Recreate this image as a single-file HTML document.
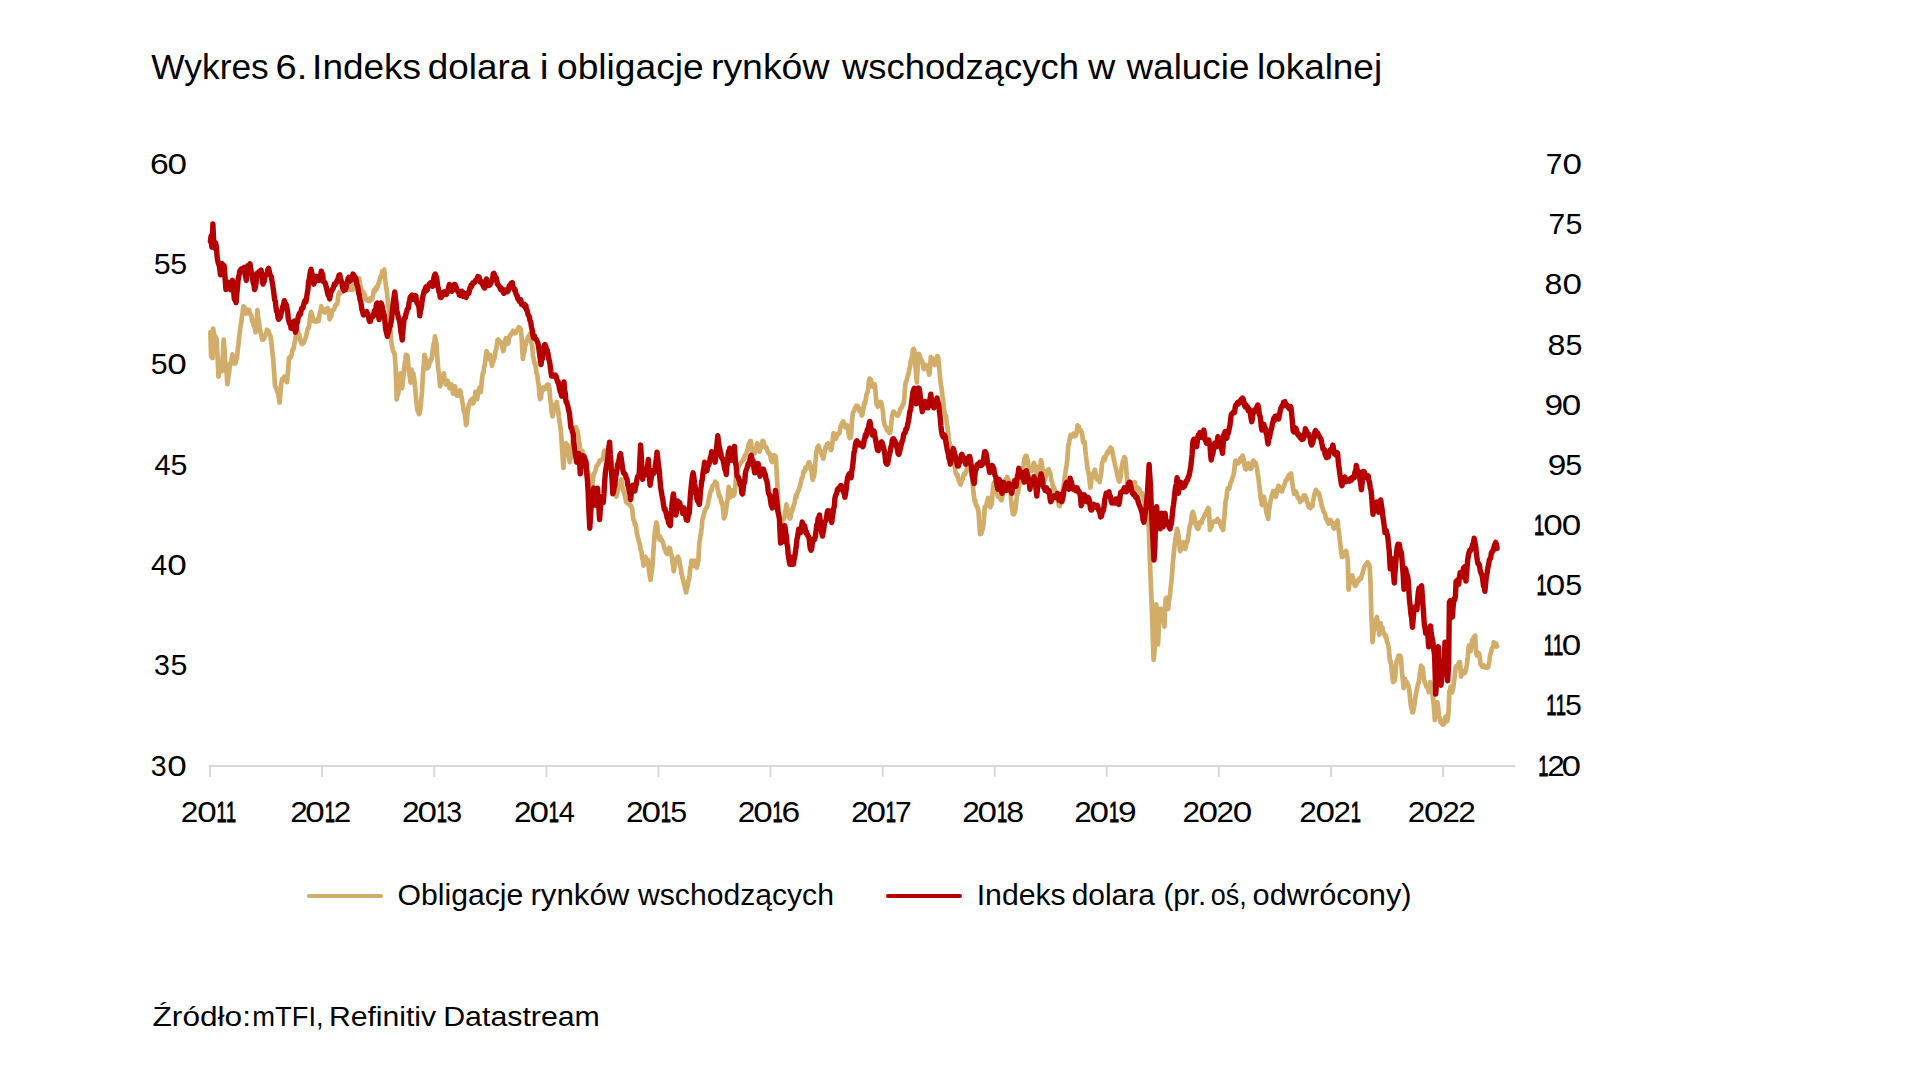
<!DOCTYPE html><html><head><meta charset="utf-8"><title>Wykres 6</title><style>html,body{margin:0;padding:0;background:#fff;}svg{display:block;}text{font-family:"Liberation Sans", "DejaVu Sans", sans-serif;fill:#000;}</style></head><body>
<svg width="1920" height="1080" viewBox="0 0 1920 1080">
<rect width="1920" height="1080" fill="#fff"/>
<text y="173.8" font-size="28.7"><tspan x="150.12" textLength="18.72" lengthAdjust="spacingAndGlyphs">6</tspan><tspan x="167.40" textLength="19.48" lengthAdjust="spacingAndGlyphs">0</tspan></text>
<text y="274.0" font-size="28.7"><tspan x="153.78" textLength="16.91" lengthAdjust="spacingAndGlyphs">5</tspan><tspan x="170.38" textLength="16.91" lengthAdjust="spacingAndGlyphs">5</tspan></text>
<text y="374.1" font-size="28.7"><tspan x="150.88" textLength="16.91" lengthAdjust="spacingAndGlyphs">5</tspan><tspan x="167.30" textLength="19.48" lengthAdjust="spacingAndGlyphs">0</tspan></text>
<text y="474.5" font-size="28.7"><tspan x="154.42" textLength="16.13" lengthAdjust="spacingAndGlyphs">4</tspan><tspan x="170.58" textLength="16.91" lengthAdjust="spacingAndGlyphs">5</tspan></text>
<text y="574.8" font-size="28.7"><tspan x="151.02" textLength="16.13" lengthAdjust="spacingAndGlyphs">4</tspan><tspan x="167.30" textLength="19.48" lengthAdjust="spacingAndGlyphs">0</tspan></text>
<text y="675.0" font-size="28.7"><tspan x="153.96" textLength="15.86" lengthAdjust="spacingAndGlyphs">3</tspan><tspan x="170.58" textLength="16.91" lengthAdjust="spacingAndGlyphs">5</tspan></text>
<text y="775.6" font-size="28.7"><tspan x="150.86" textLength="15.86" lengthAdjust="spacingAndGlyphs">3</tspan><tspan x="167.20" textLength="19.48" lengthAdjust="spacingAndGlyphs">0</tspan></text>
<text y="173.9" font-size="28.7"><tspan x="1545.80" textLength="16.68" lengthAdjust="spacingAndGlyphs">7</tspan><tspan x="1562.40" textLength="19.48" lengthAdjust="spacingAndGlyphs">0</tspan></text>
<text y="234.0" font-size="28.7"><tspan x="1548.40" textLength="16.68" lengthAdjust="spacingAndGlyphs">7</tspan><tspan x="1565.48" textLength="16.91" lengthAdjust="spacingAndGlyphs">5</tspan></text>
<text y="294.3" font-size="28.7"><tspan x="1544.41" textLength="17.86" lengthAdjust="spacingAndGlyphs">8</tspan><tspan x="1562.40" textLength="19.48" lengthAdjust="spacingAndGlyphs">0</tspan></text>
<text y="354.5" font-size="28.7"><tspan x="1547.51" textLength="17.86" lengthAdjust="spacingAndGlyphs">8</tspan><tspan x="1565.48" textLength="16.91" lengthAdjust="spacingAndGlyphs">5</tspan></text>
<text y="414.7" font-size="28.7"><tspan x="1544.44" textLength="18.60" lengthAdjust="spacingAndGlyphs">9</tspan><tspan x="1561.70" textLength="19.48" lengthAdjust="spacingAndGlyphs">0</tspan></text>
<text y="474.9" font-size="28.7"><tspan x="1547.74" textLength="18.60" lengthAdjust="spacingAndGlyphs">9</tspan><tspan x="1565.38" textLength="16.91" lengthAdjust="spacingAndGlyphs">5</tspan></text>
<text y="535.1" font-size="28.7"><tspan x="1533.94" textLength="10.21" lengthAdjust="spacingAndGlyphs" stroke="#000" stroke-width="0.9">1</tspan><tspan x="1543.20" textLength="19.48" lengthAdjust="spacingAndGlyphs">0</tspan><tspan x="1561.70" textLength="19.48" lengthAdjust="spacingAndGlyphs">0</tspan></text>
<text y="595.2" font-size="28.7"><tspan x="1536.44" textLength="10.21" lengthAdjust="spacingAndGlyphs" stroke="#000" stroke-width="0.9">1</tspan><tspan x="1545.70" textLength="19.48" lengthAdjust="spacingAndGlyphs">0</tspan><tspan x="1565.38" textLength="16.91" lengthAdjust="spacingAndGlyphs">5</tspan></text>
<text y="654.8" font-size="28.7"><tspan x="1543.84" textLength="10.21" lengthAdjust="spacingAndGlyphs" stroke="#000" stroke-width="0.9">1</tspan><tspan x="1552.89" textLength="10.21" lengthAdjust="spacingAndGlyphs" stroke="#000" stroke-width="0.9">1</tspan><tspan x="1561.70" textLength="19.48" lengthAdjust="spacingAndGlyphs">0</tspan></text>
<text y="715.4" font-size="28.7"><tspan x="1546.34" textLength="10.21" lengthAdjust="spacingAndGlyphs" stroke="#000" stroke-width="0.9">1</tspan><tspan x="1555.69" textLength="10.21" lengthAdjust="spacingAndGlyphs" stroke="#000" stroke-width="0.9">1</tspan><tspan x="1564.98" textLength="16.91" lengthAdjust="spacingAndGlyphs">5</tspan></text>
<text y="775.8" font-size="28.7"><tspan x="1538.24" textLength="10.21" lengthAdjust="spacingAndGlyphs" stroke="#000" stroke-width="0.9">1</tspan><tspan x="1547.32" textLength="17.53" lengthAdjust="spacingAndGlyphs">2</tspan><tspan x="1561.60" textLength="19.48" lengthAdjust="spacingAndGlyphs">0</tspan></text>
<text y="821.8" font-size="28.7"><tspan x="180.82" textLength="17.53" lengthAdjust="spacingAndGlyphs">2</tspan><tspan x="197.20" textLength="19.48" lengthAdjust="spacingAndGlyphs">0</tspan><tspan x="216.54" textLength="10.21" lengthAdjust="spacingAndGlyphs" stroke="#000" stroke-width="0.9">1</tspan><tspan x="226.04" textLength="10.21" lengthAdjust="spacingAndGlyphs" stroke="#000" stroke-width="0.9">1</tspan></text>
<text y="821.8" font-size="28.7"><tspan x="290.22" textLength="17.53" lengthAdjust="spacingAndGlyphs">2</tspan><tspan x="305.30" textLength="19.48" lengthAdjust="spacingAndGlyphs">0</tspan><tspan x="324.64" textLength="10.21" lengthAdjust="spacingAndGlyphs" stroke="#000" stroke-width="0.9">1</tspan><tspan x="333.72" textLength="17.53" lengthAdjust="spacingAndGlyphs">2</tspan></text>
<text y="821.8" font-size="28.7"><tspan x="402.12" textLength="17.53" lengthAdjust="spacingAndGlyphs">2</tspan><tspan x="417.50" textLength="19.48" lengthAdjust="spacingAndGlyphs">0</tspan><tspan x="436.84" textLength="10.21" lengthAdjust="spacingAndGlyphs" stroke="#000" stroke-width="0.9">1</tspan><tspan x="446.36" textLength="15.86" lengthAdjust="spacingAndGlyphs">3</tspan></text>
<text y="821.8" font-size="28.7"><tspan x="514.02" textLength="17.53" lengthAdjust="spacingAndGlyphs">2</tspan><tspan x="529.40" textLength="19.48" lengthAdjust="spacingAndGlyphs">0</tspan><tspan x="548.74" textLength="10.21" lengthAdjust="spacingAndGlyphs" stroke="#000" stroke-width="0.9">1</tspan><tspan x="558.72" textLength="16.13" lengthAdjust="spacingAndGlyphs">4</tspan></text>
<text y="821.8" font-size="28.7"><tspan x="626.02" textLength="17.53" lengthAdjust="spacingAndGlyphs">2</tspan><tspan x="641.40" textLength="19.48" lengthAdjust="spacingAndGlyphs">0</tspan><tspan x="660.74" textLength="10.21" lengthAdjust="spacingAndGlyphs" stroke="#000" stroke-width="0.9">1</tspan><tspan x="670.18" textLength="16.91" lengthAdjust="spacingAndGlyphs">5</tspan></text>
<text y="821.8" font-size="28.7"><tspan x="737.82" textLength="17.53" lengthAdjust="spacingAndGlyphs">2</tspan><tspan x="753.20" textLength="19.48" lengthAdjust="spacingAndGlyphs">0</tspan><tspan x="772.54" textLength="10.21" lengthAdjust="spacingAndGlyphs" stroke="#000" stroke-width="0.9">1</tspan><tspan x="781.52" textLength="18.72" lengthAdjust="spacingAndGlyphs">6</tspan></text>
<text y="821.8" font-size="28.7"><tspan x="851.12" textLength="17.53" lengthAdjust="spacingAndGlyphs">2</tspan><tspan x="866.50" textLength="19.48" lengthAdjust="spacingAndGlyphs">0</tspan><tspan x="885.84" textLength="10.21" lengthAdjust="spacingAndGlyphs" stroke="#000" stroke-width="0.9">1</tspan><tspan x="895.00" textLength="16.68" lengthAdjust="spacingAndGlyphs">7</tspan></text>
<text y="821.8" font-size="28.7"><tspan x="962.22" textLength="17.53" lengthAdjust="spacingAndGlyphs">2</tspan><tspan x="977.60" textLength="19.48" lengthAdjust="spacingAndGlyphs">0</tspan><tspan x="996.94" textLength="10.21" lengthAdjust="spacingAndGlyphs" stroke="#000" stroke-width="0.9">1</tspan><tspan x="1006.21" textLength="17.86" lengthAdjust="spacingAndGlyphs">8</tspan></text>
<text y="821.8" font-size="28.7"><tspan x="1074.22" textLength="17.53" lengthAdjust="spacingAndGlyphs">2</tspan><tspan x="1089.60" textLength="19.48" lengthAdjust="spacingAndGlyphs">0</tspan><tspan x="1108.94" textLength="10.21" lengthAdjust="spacingAndGlyphs" stroke="#000" stroke-width="0.9">1</tspan><tspan x="1118.04" textLength="18.60" lengthAdjust="spacingAndGlyphs">9</tspan></text>
<text y="821.8" font-size="28.7"><tspan x="1182.42" textLength="17.53" lengthAdjust="spacingAndGlyphs">2</tspan><tspan x="1198.53" textLength="19.48" lengthAdjust="spacingAndGlyphs">0</tspan><tspan x="1216.59" textLength="17.53" lengthAdjust="spacingAndGlyphs">2</tspan><tspan x="1232.70" textLength="19.48" lengthAdjust="spacingAndGlyphs">0</tspan></text>
<text y="821.8" font-size="28.7"><tspan x="1299.32" textLength="17.53" lengthAdjust="spacingAndGlyphs">2</tspan><tspan x="1315.40" textLength="19.48" lengthAdjust="spacingAndGlyphs">0</tspan><tspan x="1333.42" textLength="17.53" lengthAdjust="spacingAndGlyphs">2</tspan><tspan x="1350.64" textLength="10.21" lengthAdjust="spacingAndGlyphs" stroke="#000" stroke-width="0.9">1</tspan></text>
<text y="821.8" font-size="28.7"><tspan x="1407.82" textLength="17.53" lengthAdjust="spacingAndGlyphs">2</tspan><tspan x="1424.03" textLength="19.48" lengthAdjust="spacingAndGlyphs">0</tspan><tspan x="1442.19" textLength="17.53" lengthAdjust="spacingAndGlyphs">2</tspan><tspan x="1458.22" textLength="17.53" lengthAdjust="spacingAndGlyphs">2</tspan></text>
<text y="79.00" font-size="34.5"><tspan x="151.34" textLength="117.37" lengthAdjust="spacingAndGlyphs">Wykres</tspan> <tspan x="275.47" textLength="31.74" lengthAdjust="spacingAndGlyphs">6.</tspan> <tspan x="312.12" textLength="108.98" lengthAdjust="spacingAndGlyphs">Indeks</tspan> <tspan x="427.80" textLength="102.37" lengthAdjust="spacingAndGlyphs">dolara</tspan> <tspan x="539.89" textLength="8.82" lengthAdjust="spacingAndGlyphs">i</tspan> <tspan x="556.98" textLength="146.66" lengthAdjust="spacingAndGlyphs">obligacje</tspan> <tspan x="710.96" textLength="118.47" lengthAdjust="spacingAndGlyphs">rynków</tspan> <tspan x="842.00" textLength="237.02" lengthAdjust="spacingAndGlyphs">wschodzących</tspan> <tspan x="1088.10" textLength="27.31" lengthAdjust="spacingAndGlyphs">w</tspan> <tspan x="1126.60" textLength="122.76" lengthAdjust="spacingAndGlyphs">walucie</tspan> <tspan x="1256.99" textLength="125.11" lengthAdjust="spacingAndGlyphs">lokalnej</tspan></text>
<g stroke="#d9d9d9" stroke-width="2" fill="none">
<line x1="208.6" y1="766" x2="1515.3" y2="766"/>
<line x1="210.0" y1="766" x2="210.0" y2="777"/>
<line x1="322.0" y1="766" x2="322.0" y2="777"/>
<line x1="434.3" y1="766" x2="434.3" y2="777"/>
<line x1="546.4" y1="766" x2="546.4" y2="777"/>
<line x1="658.4" y1="766" x2="658.4" y2="777"/>
<line x1="770.4" y1="766" x2="770.4" y2="777"/>
<line x1="882.7" y1="766" x2="882.7" y2="777"/>
<line x1="994.7" y1="766" x2="994.7" y2="777"/>
<line x1="1106.7" y1="766" x2="1106.7" y2="777"/>
<line x1="1218.8" y1="766" x2="1218.8" y2="777"/>
<line x1="1331.1" y1="766" x2="1331.1" y2="777"/>
<line x1="1443.1" y1="766" x2="1443.1" y2="777"/>
</g>
<polyline points="210.4,332.2 211.1,356.3 211.8,355.6 212.5,358.1 213.2,328.5 214.0,333.8 214.8,335.9 215.4,338.3 216.0,337.3 216.7,339.6 217.3,352.0 217.9,364.1 218.5,376.7 219.1,372.4 219.8,368.1 220.4,361.9 221.1,364.7 221.9,371.1 222.5,358.5 223.1,351.6 223.7,339.6 224.4,348.6 225.0,358.1 225.8,367.9 226.6,373.2 227.4,384.1 228.1,378.3 228.9,373.9 229.6,367.4 230.3,363.0 231.0,362.9 231.7,359.5 232.4,354.4 233.0,355.5 233.6,358.5 234.3,363.7 235.0,362.5 235.6,362.9 236.3,359.0 237.0,358.1 237.7,350.4 238.4,344.8 239.1,336.6 239.8,332.2 240.6,325.8 241.3,321.6 242.0,316.6 242.8,310.3 243.5,306.3 244.2,307.0 244.9,308.8 245.6,311.7 246.3,313.7 247.0,311.9 247.7,309.7 248.4,312.4 249.1,310.0 249.8,312.5 250.6,315.1 251.3,315.3 252.0,321.1 252.8,321.1 253.5,325.5 254.2,325.0 254.9,328.7 255.6,332.2 256.2,325.8 256.8,318.3 257.4,310.0 258.0,316.9 258.6,319.5 259.3,324.8 260.0,330.0 260.6,333.0 261.3,335.1 262.0,339.6 262.7,339.1 263.4,339.5 264.1,338.4 264.8,335.9 265.5,334.6 266.2,333.5 266.9,329.7 267.6,330.4 268.3,330.6 269.0,334.5 269.7,334.2 270.4,335.9 271.1,340.0 271.8,347.3 272.5,353.5 273.1,358.1 273.8,368.2 274.4,376.1 275.0,385.9 275.7,387.0 276.4,388.7 277.1,391.3 277.8,391.5 278.4,395.3 279.0,398.4 279.6,402.6 280.2,395.8 280.9,386.9 281.5,382.2 282.2,378.8 282.9,380.3 283.6,380.2 284.3,376.7 285.0,378.5 285.6,379.0 286.3,379.4 287.0,382.2 287.7,374.2 288.3,368.3 288.9,358.1 289.6,358.4 290.3,356.5 291.0,357.0 291.7,354.4 292.4,350.5 293.1,348.9 293.8,348.1 294.4,343.3 295.1,340.0 295.8,335.7 296.5,331.2 297.2,328.5 297.9,331.5 298.6,336.1 299.3,334.7 300.0,339.6 300.7,341.8 301.4,342.9 302.1,344.1 302.8,343.3 303.5,343.0 304.2,341.9 304.9,339.2 305.6,337.8 306.2,335.7 306.9,332.8 307.6,328.9 308.3,328.5 309.0,326.0 309.7,320.5 310.4,314.7 311.1,311.9 311.8,314.2 312.5,316.4 313.2,318.2 313.9,321.1 314.6,320.4 315.2,321.3 315.9,321.7 316.5,321.6 317.2,320.9 317.9,319.0 318.5,321.1 319.2,316.2 319.9,312.3 320.6,310.4 321.3,306.3 322.0,309.3 322.7,310.4 323.4,311.8 324.1,311.9 324.8,312.5 325.6,309.3 326.3,311.1 327.0,309.7 327.8,308.1 328.4,310.0 329.0,313.4 329.6,319.3 330.4,315.3 331.1,316.7 331.9,312.6 332.6,310.1 333.3,310.0 334.1,309.4 334.8,307.1 335.6,304.8 336.3,304.1 337.0,304.4 337.7,300.9 338.3,295.6 338.9,293.3 339.6,292.0 340.4,293.5 341.1,292.0 341.9,291.1 342.6,291.5 343.3,289.5 344.0,285.7 344.7,285.4 345.4,284.1 346.1,284.7 346.8,284.6 347.5,285.1 348.1,287.8 348.9,289.9 349.6,288.6 350.4,287.6 351.1,289.7 351.9,289.6 352.6,289.9 353.3,285.3 354.1,284.2 354.8,283.6 355.6,284.1 356.3,283.9 357.0,280.4 357.8,281.6 358.5,280.4 359.3,278.5 359.9,283.5 360.6,288.1 361.2,287.8 361.9,292.1 362.6,292.2 363.3,291.9 364.0,293.8 364.7,294.3 365.4,298.1 366.1,299.3 366.8,299.3 367.5,300.5 368.2,299.9 368.9,301.1 369.6,301.2 370.3,298.2 371.0,298.8 371.7,299.3 372.3,298.8 372.9,296.0 373.5,291.9 374.1,290.1 374.8,291.6 375.4,289.1 376.0,287.3 376.6,289.2 377.2,286.3 377.8,286.1 378.5,283.5 379.1,282.6 379.7,279.7 380.3,276.7 380.9,277.0 381.5,276.9 382.2,271.3 382.8,271.5 383.5,272.0 384.3,269.6 384.9,278.1 385.6,282.6 386.2,287.8 386.8,291.0 387.4,297.4 388.0,303.3 388.6,308.1 389.3,310.4 390.2,327.0 391.1,340.0 391.7,344.6 392.3,347.4 393.0,351.1 393.6,351.8 394.2,352.9 394.8,354.8 395.7,369.6 396.7,399.3 397.3,395.5 397.9,395.1 398.5,391.9 399.1,385.4 399.8,378.2 400.4,373.3 401.0,376.5 401.6,383.9 402.2,388.1 402.8,381.1 403.5,375.8 404.1,369.6 404.7,363.9 405.3,361.4 405.9,354.8 406.5,357.8 407.2,355.2 407.8,358.5 408.7,369.6 409.3,372.6 409.9,377.5 410.6,382.6 411.5,369.6 412.1,373.0 412.7,373.3 413.3,373.3 414.0,377.6 414.6,381.9 415.2,388.1 415.8,395.1 416.4,402.0 417.0,406.7 417.7,411.0 418.3,410.9 418.9,414.1 419.5,413.3 420.1,410.0 420.7,406.7 421.4,398.0 422.0,391.5 422.6,380.7 423.2,370.9 423.8,364.4 424.4,354.8 425.1,356.7 425.7,360.8 426.3,365.9 426.9,368.4 427.5,365.9 428.1,367.8 428.8,366.4 429.4,363.3 430.0,360.4 430.6,361.3 431.2,358.6 431.9,358.5 432.5,352.9 433.1,347.7 433.7,343.7 434.4,341.6 435.0,336.3 435.7,340.5 436.5,343.7 437.1,354.3 437.7,362.7 438.3,369.6 439.0,373.6 439.6,381.0 440.2,386.3 440.8,382.7 441.4,380.6 442.0,380.7 442.7,376.4 443.3,377.4 443.9,373.3 444.5,378.3 445.1,382.2 445.7,384.4 446.4,382.5 447.0,382.5 447.6,380.7 448.2,384.5 448.8,385.1 449.4,388.1 450.1,387.2 450.7,384.5 451.3,384.4 451.9,385.7 452.5,389.6 453.1,393.7 453.8,393.0 454.4,389.0 455.0,386.3 455.6,391.3 456.2,392.3 456.9,395.6 457.5,394.0 458.1,395.6 458.7,393.7 459.3,394.5 459.9,390.3 460.6,391.9 461.2,396.3 461.8,397.5 462.4,403.0 463.0,404.4 463.6,410.8 464.3,412.2 464.9,414.5 465.5,419.7 466.1,425.2 466.7,422.4 467.3,415.0 468.0,410.4 468.6,406.2 469.2,404.0 469.8,403.0 470.4,400.6 471.0,401.6 471.7,399.3 472.3,398.7 472.9,403.5 473.5,403.0 474.1,398.7 474.8,397.6 475.4,391.9 476.0,396.1 476.6,395.9 477.2,399.3 477.8,394.5 478.5,391.8 479.1,388.1 479.7,387.6 480.3,391.3 480.9,391.9 481.5,383.7 482.2,377.4 482.8,373.3 483.4,373.0 484.0,367.5 484.6,365.9 485.2,361.4 485.9,355.8 486.5,351.1 487.1,352.8 487.7,354.1 488.3,358.5 489.0,359.1 489.6,358.1 490.2,354.8 490.8,360.6 491.4,360.5 492.0,365.9 492.7,362.2 493.3,361.5 493.9,358.5 494.5,358.2 495.1,353.8 495.7,351.1 496.4,348.2 497.0,344.4 497.6,340.0 498.2,339.6 498.8,341.4 499.4,341.9 500.1,341.6 500.7,342.0 501.3,343.7 501.9,344.3 502.5,347.7 503.1,351.1 503.9,349.5 504.6,343.7 505.3,340.7 505.9,338.1 506.5,340.7 507.2,342.5 507.8,343.7 508.4,343.2 509.0,338.3 509.6,336.3 510.2,334.8 510.9,334.3 511.5,334.4 512.1,332.4 512.7,333.5 513.3,330.7 514.1,333.2 514.9,331.4 515.7,333.1 516.5,330.9 517.2,330.4 517.9,329.1 518.6,327.3 519.4,328.7 520.1,328.1 520.9,330.2 521.6,337.6 522.2,348.2 522.9,358.9 523.6,353.4 524.4,351.9 525.1,346.2 525.8,344.5 526.5,340.5 527.2,340.8 527.9,337.2 528.7,335.9 529.3,336.3 530.0,334.0 530.7,333.1 531.4,342.3 532.2,346.8 533.0,356.0 533.7,358.9 534.4,363.1 535.1,362.8 535.8,367.5 536.6,373.8 537.3,374.7 538.0,381.6 538.7,384.7 539.4,394.0 540.1,399.1 540.9,397.6 541.6,392.5 542.3,388.7 543.0,387.6 543.7,387.7 544.4,389.4 545.2,386.7 545.9,387.6 546.6,388.6 547.3,384.6 548.0,387.2 548.8,384.7 549.5,389.8 550.2,399.1 551.0,404.0 551.7,412.3 552.5,416.3 553.2,413.8 553.8,410.4 554.5,404.8 555.3,405.4 556.0,404.0 556.8,401.9 557.5,407.6 558.1,410.1 558.8,416.3 559.6,421.7 560.3,426.3 561.1,433.5 561.9,445.9 562.6,457.2 563.4,468.0 564.2,455.4 565.1,445.0 565.9,443.1 566.6,447.0 567.4,445.0 568.2,452.1 568.9,456.7 569.7,462.2 570.4,458.6 571.0,456.1 571.7,450.7 572.4,444.8 573.1,438.8 573.9,432.8 574.6,427.8 575.3,427.4 576.0,427.1 576.7,430.6 577.5,430.6 578.2,435.3 578.9,441.0 579.6,443.8 580.3,450.7 581.0,450.8 581.8,450.6 582.5,451.2 583.2,453.6 583.9,455.4 584.6,460.8 585.3,461.8 586.1,465.1 586.8,467.5 587.5,471.3 588.2,472.5 588.9,476.6 589.7,477.3 590.4,482.4 591.1,485.2 591.8,488.1 592.5,483.9 593.1,478.2 593.8,473.7 594.6,472.6 595.3,470.9 596.1,468.0 596.8,465.4 597.5,465.1 598.3,463.6 599.0,462.2 599.7,460.3 600.4,460.4 601.1,460.3 601.9,459.4 602.6,459.0 603.3,456.9 604.0,451.9 604.7,450.7 605.4,455.0 606.2,455.9 606.9,459.6 607.6,465.1 608.3,465.9 609.0,468.2 609.7,465.7 610.5,468.0 611.2,473.4 611.9,478.3 612.6,480.1 613.3,485.2 614.1,488.9 614.8,492.5 615.5,493.2 616.2,496.7 616.9,494.7 617.6,492.0 618.4,488.5 619.1,485.2 619.8,484.8 620.6,483.1 621.4,479.4 622.0,485.3 622.7,487.4 623.4,490.9 624.1,492.4 624.8,495.6 625.5,498.3 626.2,502.4 627.0,502.7 627.7,503.5 628.4,500.4 629.1,502.4 629.8,504.6 630.6,506.2 631.3,506.0 632.0,508.1 632.7,514.0 633.4,519.6 634.1,520.3 634.9,524.9 635.6,524.1 636.3,528.2 637.0,533.9 637.7,536.8 638.4,539.6 639.2,542.6 639.9,544.4 640.7,550.1 641.5,551.2 642.1,558.0 642.8,559.2 643.5,565.6 644.1,563.9 644.8,561.3 645.5,556.9 646.2,558.6 647.0,559.7 647.8,559.8 648.5,564.6 649.2,571.7 649.9,577.0 650.6,579.9 651.3,573.6 652.0,569.8 652.7,562.7 653.5,549.5 654.4,536.9 655.0,530.6 655.7,526.5 656.4,522.5 657.2,525.6 657.9,533.9 658.7,536.9 659.4,539.6 660.1,536.6 660.8,539.4 661.6,539.7 662.3,541.5 663.0,542.3 663.7,545.3 664.4,548.3 665.1,548.7 665.9,552.3 666.6,550.5 667.3,554.1 667.9,551.3 668.6,550.9 669.2,547.7 669.9,548.3 670.3,550.2 670.9,553.1 671.5,555.3 672.0,557.2 672.6,563.4 673.2,565.3 673.8,571.3 674.4,566.8 675.0,564.4 675.6,560.7 676.1,558.6 676.7,558.8 677.3,557.2 677.9,556.7 678.5,559.2 679.1,559.0 679.7,563.2 680.2,566.2 680.8,567.8 681.4,573.4 682.0,575.0 682.6,578.3 683.2,580.1 683.8,583.4 684.4,583.6 684.9,587.7 685.5,589.8 686.1,592.4 686.7,589.5 687.3,586.8 687.9,585.4 688.5,580.1 689.0,579.7 689.6,574.8 690.2,568.4 690.8,566.5 691.4,560.7 692.0,562.7 692.6,566.3 693.1,566.0 693.7,565.4 694.3,564.6 694.9,560.7 695.5,561.5 696.1,565.4 696.7,567.8 697.3,565.8 697.8,562.3 698.4,560.7 699.3,543.1 699.9,539.6 700.5,535.5 701.1,532.6 701.7,528.0 702.2,521.0 702.8,518.5 703.4,515.9 704.0,513.6 704.6,511.5 705.2,509.4 705.8,508.7 706.3,508.0 706.9,507.4 707.5,505.3 708.1,502.7 708.7,499.7 709.3,497.5 709.9,493.9 710.4,492.2 711.0,490.2 711.6,490.4 712.2,486.4 712.8,485.9 713.4,485.1 714.0,484.4 714.6,484.4 715.1,481.6 715.7,483.6 716.3,482.8 716.9,483.3 717.5,489.0 718.1,490.2 718.7,493.9 719.2,496.5 719.8,495.8 720.4,497.4 721.0,500.2 721.6,503.1 722.2,502.7 722.8,507.1 723.3,511.8 723.9,518.5 724.5,517.3 725.1,515.1 725.7,513.2 726.3,508.5 726.9,502.8 727.5,500.9 728.1,493.4 728.7,486.9 729.4,491.8 730.1,497.4 730.7,494.6 731.3,494.3 731.9,490.4 732.4,492.5 733.0,494.9 733.6,495.6 734.2,494.5 734.8,490.9 735.4,486.9 736.2,472.8 736.8,471.0 737.4,470.3 738.0,467.5 738.6,466.9 739.2,465.8 739.8,464.0 740.4,464.0 740.9,462.4 741.5,462.2 742.1,461.6 742.7,460.5 743.3,458.7 743.9,459.5 744.5,457.6 745.0,455.2 745.6,455.5 746.2,454.0 746.8,451.7 747.4,450.7 748.0,447.4 748.6,444.6 749.3,442.8 750.1,441.2 750.9,441.1 751.4,445.5 752.0,449.8 752.6,451.7 753.2,452.4 753.8,451.3 754.4,453.4 755.0,452.5 755.5,448.7 756.1,446.4 756.7,445.7 757.3,443.2 757.9,444.6 758.5,447.0 759.1,450.4 759.6,451.7 760.2,449.6 760.8,447.5 761.4,446.4 762.0,445.3 762.6,440.8 763.2,441.1 763.8,442.9 764.3,446.6 764.9,446.4 765.5,447.8 766.1,447.1 766.7,448.1 767.4,450.7 768.1,452.1 768.8,453.4 769.4,453.3 770.0,454.5 770.6,456.9 771.1,460.4 771.7,459.4 772.3,462.2 772.9,458.0 773.5,459.0 774.1,455.2 774.7,455.9 775.2,455.8 775.8,456.9 776.7,472.8 777.6,490.4 778.5,508.0 779.1,515.9 779.7,523.8 780.4,525.7 781.1,525.6 781.7,521.8 782.3,521.5 782.9,518.5 783.5,518.9 784.0,518.7 784.6,516.8 785.2,511.6 785.8,509.0 786.4,504.4 787.0,506.2 787.6,510.6 788.1,513.2 788.7,513.6 789.3,518.0 789.9,518.5 790.5,517.8 791.1,513.1 791.7,511.5 792.3,508.5 792.8,510.0 793.4,506.2 794.0,504.8 794.6,503.0 795.2,499.2 795.8,495.3 796.4,497.4 796.9,493.9 797.5,493.3 798.1,490.7 798.7,490.4 799.3,487.7 799.9,486.8 800.5,483.3 801.0,482.8 801.6,478.5 802.2,478.1 802.8,476.3 803.4,471.9 804.0,471.0 804.6,471.9 805.2,468.4 805.7,467.5 806.3,468.7 806.9,467.3 807.5,465.7 808.1,465.0 808.7,462.3 809.3,462.2 809.8,464.7 810.4,465.3 811.0,469.3 811.6,471.2 812.2,477.2 812.8,479.8 813.4,476.9 814.0,476.2 814.5,472.8 815.1,464.6 815.7,459.7 816.3,451.7 816.9,450.9 817.5,447.3 818.1,446.4 818.6,445.8 819.2,448.3 819.8,449.9 820.4,451.6 821.0,451.7 821.6,455.2 822.2,455.0 822.7,455.6 823.3,458.7 824.1,454.7 824.9,449.9 825.8,446.7 826.5,447.7 827.1,444.1 827.8,444.7 828.4,443.3 829.1,446.9 829.7,446.7 830.4,448.7 831.0,450.0 831.7,448.6 832.3,443.9 833.0,437.5 833.6,433.1 834.3,436.5 834.9,435.3 835.6,438.9 836.2,438.4 836.9,434.5 837.5,435.0 838.1,433.9 838.8,433.7 839.4,433.1 840.1,429.9 840.7,426.4 841.4,425.3 842.0,422.8 842.7,424.1 843.3,421.4 844.0,423.2 844.6,425.6 845.3,427.2 845.9,425.3 846.6,426.9 847.2,425.3 847.9,428.4 848.5,433.5 849.2,436.9 849.8,438.1 850.5,437.8 851.1,435.0 852.1,419.4 852.8,413.6 853.4,411.7 854.2,411.0 855.0,407.8 855.6,408.7 856.3,405.7 856.9,405.8 857.6,406.0 858.2,407.5 858.9,407.8 859.5,410.9 860.2,409.9 860.8,411.7 861.8,415.6 862.5,414.0 863.1,410.2 863.8,405.8 864.4,402.4 865.0,403.8 865.7,400.0 866.3,395.3 867.0,393.3 867.6,392.2 868.3,388.4 868.9,381.2 869.6,378.6 870.2,379.4 870.9,379.6 871.5,382.5 872.2,383.6 872.8,386.6 873.5,386.4 874.2,387.2 874.8,384.4 875.6,392.1 876.4,403.9 877.0,402.6 877.7,406.7 878.3,405.8 879.0,402.5 879.6,402.2 880.3,401.9 880.9,402.2 881.6,404.0 882.2,407.8 882.9,410.9 883.5,418.8 884.2,423.3 884.8,425.7 885.5,426.7 886.1,427.2 886.8,430.0 887.4,430.5 888.1,431.1 888.7,431.3 889.4,433.0 890.0,433.1 890.6,429.9 891.3,423.3 891.9,417.5 892.6,414.4 893.2,411.7 893.9,411.7 894.5,414.2 895.2,413.4 895.8,413.6 896.5,413.6 897.1,415.4 897.8,415.6 898.4,414.5 899.1,413.1 899.7,411.7 900.4,408.4 901.0,408.4 901.7,407.8 902.3,406.1 903.0,403.9 903.6,403.9 904.3,398.4 904.9,389.3 905.6,382.5 906.2,381.3 906.9,379.6 907.5,376.7 908.1,375.1 908.8,372.5 909.4,368.9 910.1,366.8 910.7,361.3 911.4,359.2 912.2,356.4 912.9,349.4 913.7,348.9 914.5,351.4 915.1,362.0 915.7,368.9 916.2,377.3 916.8,382.5 917.5,370.4 918.2,355.3 918.8,354.0 919.5,354.8 920.1,357.2 920.8,359.9 921.4,359.7 922.1,361.1 922.7,363.1 923.4,368.4 924.0,368.9 924.7,365.6 925.3,366.4 926.0,365.0 926.6,366.0 927.3,366.0 927.9,368.9 928.6,371.3 929.3,374.7 930.1,366.9 930.8,357.2 931.5,360.2 932.1,357.7 932.8,361.1 933.4,362.5 934.1,361.9 934.7,365.0 935.4,364.4 936.0,359.3 936.7,359.2 937.4,356.1 938.2,357.2 938.9,364.5 939.6,372.8 940.3,379.6 940.9,384.4 941.7,389.5 942.5,396.1 943.1,399.7 943.8,407.8 944.4,411.7 945.2,415.0 946.0,415.6 946.7,423.0 947.4,427.2 948.0,432.2 948.7,438.9 949.5,442.4 950.3,446.7 950.9,446.2 951.6,448.2 952.2,448.6 952.9,452.4 953.5,457.0 954.2,462.2 954.8,467.4 955.5,472.0 956.1,473.9 956.8,475.6 957.4,474.7 958.1,477.8 958.7,480.4 959.4,481.4 960.0,483.6 960.6,484.5 961.3,482.0 961.9,479.7 962.6,479.3 963.2,476.7 963.9,473.9 964.5,473.4 965.2,474.3 965.8,471.9 966.5,471.5 967.1,467.1 967.8,466.1 968.4,463.3 969.1,462.9 969.7,462.2 970.4,466.9 971.0,469.5 971.7,475.8 972.4,482.0 973.2,489.4 973.9,495.6 974.6,501.1 975.2,500.4 975.9,505.1 976.5,505.0 977.2,507.6 977.8,508.1 978.5,510.8 979.2,521.6 980.0,534.2 980.6,533.2 981.2,533.6 981.9,530.8 982.6,529.4 983.6,523.9 984.2,516.6 984.7,507.2 985.4,506.5 986.1,505.8 986.8,503.2 987.5,500.3 988.2,498.0 988.9,498.9 989.6,504.9 990.3,507.2 991.0,505.1 991.7,504.4 992.4,495.4 993.1,487.8 993.8,483.1 994.4,482.2 995.1,488.5 995.8,490.6 996.5,491.9 997.2,493.3 997.9,496.5 998.6,496.1 999.3,497.3 1000.0,494.7 1000.7,499.6 1001.4,500.3 1002.1,498.2 1002.8,493.3 1003.5,492.4 1004.2,487.8 1005.0,485.5 1005.8,479.4 1006.4,480.3 1007.0,476.9 1007.6,478.1 1008.3,479.5 1009.0,480.8 1009.7,484.6 1010.4,487.8 1011.1,499.7 1011.8,507.2 1012.5,511.9 1013.2,514.2 1013.9,514.4 1014.6,512.8 1015.3,509.7 1016.0,504.4 1016.7,498.3 1017.4,493.3 1018.1,492.5 1018.8,487.8 1019.4,484.2 1020.1,479.4 1020.8,475.5 1021.5,472.5 1022.2,470.3 1022.9,468.3 1023.6,465.6 1024.3,458.6 1025.0,457.4 1025.7,455.8 1026.4,455.8 1027.1,458.6 1027.8,460.5 1028.5,465.6 1029.2,469.2 1029.9,471.1 1030.6,470.0 1031.2,468.3 1031.9,470.8 1032.6,469.7 1033.3,464.9 1034.0,462.8 1034.7,465.2 1035.4,468.3 1036.1,472.1 1036.8,473.9 1037.5,468.4 1038.2,466.9 1038.9,471.4 1039.6,479.4 1040.3,469.9 1041.0,460.0 1041.7,463.1 1042.4,468.3 1043.1,473.5 1043.8,482.2 1044.4,479.8 1045.1,479.4 1045.8,475.9 1046.5,471.1 1047.2,470.5 1047.9,469.7 1048.6,469.3 1049.3,472.5 1050.0,472.0 1050.7,475.3 1051.4,480.3 1052.1,482.2 1052.8,485.6 1053.5,487.8 1054.2,487.7 1054.9,490.6 1055.6,493.5 1056.2,493.3 1056.9,494.7 1057.6,500.3 1058.3,502.5 1059.0,505.8 1059.7,506.0 1060.4,503.1 1061.1,501.2 1061.8,497.5 1062.5,491.7 1063.2,487.8 1063.9,484.6 1064.6,478.1 1065.3,473.6 1066.0,468.3 1066.7,465.1 1067.4,458.6 1068.3,444.7 1068.9,444.4 1069.4,440.6 1070.1,437.4 1070.8,435.0 1071.5,436.5 1072.2,436.4 1072.9,435.2 1073.6,433.6 1074.3,436.3 1075.0,435.0 1075.7,435.6 1076.4,433.6 1076.9,430.4 1077.5,425.3 1078.2,427.4 1078.9,426.7 1079.6,430.9 1080.3,430.8 1081.0,430.5 1081.7,432.2 1082.4,435.8 1083.1,441.9 1083.9,443.0 1084.7,441.9 1085.4,450.8 1086.1,457.2 1086.8,462.8 1087.5,468.3 1088.2,471.7 1088.9,475.3 1089.6,481.1 1090.3,487.8 1090.8,485.3 1091.4,479.4 1092.1,478.0 1092.8,473.9 1093.5,472.9 1094.2,471.1 1094.9,469.8 1095.6,472.5 1096.2,477.5 1096.9,479.4 1097.6,477.9 1098.3,476.7 1099.0,478.1 1099.7,482.2 1100.4,477.2 1101.1,473.9 1102.1,462.8 1102.8,461.5 1103.5,458.6 1104.2,457.1 1104.9,460.0 1105.6,456.2 1106.2,455.8 1106.9,452.9 1107.6,451.7 1108.3,452.7 1109.0,450.3 1109.7,450.0 1110.4,447.5 1111.1,450.3 1111.8,448.9 1112.5,452.6 1113.2,455.8 1113.9,459.6 1114.6,462.8 1115.3,465.8 1116.0,468.3 1116.7,471.9 1117.4,475.3 1118.1,478.2 1118.8,480.8 1119.4,481.5 1120.1,479.4 1120.8,475.9 1121.5,468.3 1122.2,464.5 1122.9,461.4 1123.6,459.9 1124.3,457.2 1125.3,458.6 1125.8,464.0 1126.4,471.1 1126.9,477.2 1127.5,485.0 1128.3,486.4 1129.2,487.8 1129.9,488.2 1130.6,487.8 1131.2,487.1 1131.9,488.0 1132.6,485.0 1133.4,482.6 1134.2,483.7 1135.0,482.2 1135.6,486.7 1136.2,489.3 1136.9,488.6 1137.6,488.3 1138.2,487.9 1138.9,488.9 1139.6,489.3 1140.2,492.6 1140.9,493.3 1141.6,493.2 1142.2,493.3 1143.0,497.3 1143.7,499.6 1144.4,500.0 1145.2,504.9 1146.0,506.7 1146.6,509.1 1147.2,512.4 1147.8,515.6 1148.3,523.5 1148.9,528.9 1149.6,551.1 1150.4,573.3 1151.3,595.6 1152.2,617.8 1152.9,640.0 1153.6,660.0 1154.4,653.3 1155.3,628.9 1156.2,604.4 1157.1,617.8 1158.0,644.4 1158.9,626.7 1159.4,617.2 1160.0,608.9 1160.8,610.0 1161.6,608.9 1162.1,611.8 1162.7,614.1 1163.3,617.8 1163.9,622.0 1164.4,626.7 1165.0,611.6 1165.6,600.0 1166.1,598.2 1166.7,597.8 1167.4,603.0 1168.2,608.9 1168.8,602.3 1169.4,598.6 1170.0,595.6 1170.7,587.8 1171.3,582.2 1172.0,574.9 1172.7,564.4 1173.3,558.2 1174.0,551.1 1174.8,543.5 1175.6,537.8 1176.3,535.5 1177.1,528.9 1177.8,531.2 1178.4,535.6 1179.2,543.4 1180.0,551.1 1180.8,549.9 1181.6,546.7 1182.1,546.0 1182.7,543.4 1183.3,542.2 1183.9,545.7 1184.5,546.6 1185.1,548.9 1185.7,547.6 1186.3,544.4 1186.9,542.2 1187.5,541.3 1188.1,537.2 1188.7,533.3 1189.3,528.6 1189.9,525.8 1190.4,524.4 1191.0,522.8 1191.6,515.8 1192.2,513.3 1192.8,512.0 1193.4,513.7 1194.0,515.6 1194.6,518.4 1195.2,523.5 1195.8,524.4 1196.4,525.5 1197.1,528.4 1197.8,528.9 1198.5,528.1 1199.3,522.6 1200.0,522.2 1200.7,522.0 1201.5,522.9 1202.2,520.0 1203.0,518.7 1203.7,517.2 1204.4,515.6 1205.2,513.4 1205.9,514.6 1206.7,511.1 1207.4,512.4 1208.1,507.9 1208.9,508.9 1209.4,519.7 1210.0,530.0 1210.6,527.8 1211.3,527.1 1211.9,524.4 1212.6,522.1 1213.3,522.0 1214.0,521.4 1214.7,521.7 1215.4,520.9 1216.1,521.6 1216.8,521.2 1217.5,518.9 1218.2,521.5 1218.9,522.4 1219.6,521.2 1220.3,524.4 1221.0,525.3 1221.7,528.0 1222.4,527.7 1223.1,530.0 1223.7,522.6 1224.4,517.0 1225.0,507.8 1225.7,500.5 1226.5,498.2 1227.2,491.1 1227.9,488.0 1228.6,487.8 1229.3,488.7 1230.0,485.6 1230.7,482.2 1231.4,481.5 1232.1,478.9 1232.8,477.2 1233.5,474.8 1234.2,471.1 1234.9,463.8 1235.6,460.6 1236.2,461.2 1236.9,463.7 1237.6,462.8 1238.3,463.3 1239.0,460.7 1239.7,461.7 1240.4,458.4 1241.1,457.8 1241.9,457.7 1242.6,455.6 1243.3,457.8 1244.0,463.6 1244.6,465.9 1245.3,468.9 1246.0,469.4 1246.7,468.2 1247.4,463.7 1248.1,463.3 1248.8,464.9 1249.4,465.8 1250.1,468.6 1250.8,468.9 1251.5,468.3 1252.2,463.5 1252.9,461.6 1253.6,460.6 1254.3,462.9 1255.0,462.9 1255.7,463.1 1256.4,466.1 1257.0,468.5 1257.7,473.8 1258.3,477.2 1259.2,484.6 1260.0,491.1 1260.6,497.8 1261.3,500.5 1261.9,505.0 1262.6,502.7 1263.2,497.9 1263.9,496.7 1264.6,500.9 1265.4,505.0 1266.1,510.6 1266.8,514.2 1267.4,515.1 1268.1,518.9 1268.8,512.1 1269.5,507.2 1270.3,502.2 1271.0,499.3 1271.7,496.0 1272.4,494.4 1273.1,491.1 1273.8,491.1 1274.4,495.6 1275.1,496.1 1275.8,496.7 1276.5,494.0 1277.2,489.2 1277.9,487.6 1278.6,485.6 1279.3,487.8 1280.0,489.0 1280.7,491.1 1281.4,491.1 1282.1,491.4 1282.8,487.5 1283.5,486.9 1284.2,485.6 1284.9,483.4 1285.6,481.1 1286.2,479.8 1286.9,480.0 1287.7,477.5 1288.5,475.4 1289.2,476.0 1290.0,474.4 1290.6,474.9 1291.1,473.5 1291.9,479.9 1292.7,485.7 1293.5,490.6 1294.2,493.9 1294.8,492.0 1295.5,491.2 1296.2,491.9 1296.9,494.2 1297.6,497.6 1298.2,498.0 1298.9,499.0 1299.6,498.5 1300.3,502.0 1301.0,499.2 1301.6,499.8 1302.3,500.0 1303.0,499.1 1303.7,495.5 1304.4,495.9 1305.0,495.4 1305.7,498.1 1306.4,498.0 1307.1,502.8 1307.7,502.7 1308.4,506.1 1309.1,507.2 1309.8,507.6 1310.5,508.1 1311.1,505.4 1311.8,506.0 1312.5,506.1 1313.2,500.5 1313.9,496.9 1314.5,493.9 1315.2,493.0 1316.0,489.8 1316.8,492.6 1317.6,493.9 1318.3,492.5 1319.0,493.4 1319.6,495.9 1320.3,500.3 1321.0,501.0 1321.7,506.1 1322.3,507.3 1323.0,509.2 1323.7,512.2 1324.4,512.3 1325.1,514.2 1325.7,518.3 1326.4,518.1 1327.1,520.6 1327.8,522.4 1328.5,523.6 1329.1,521.7 1329.8,520.4 1330.5,519.9 1331.2,522.5 1331.9,522.4 1332.5,523.4 1333.2,526.5 1333.9,528.5 1334.6,526.4 1335.2,527.8 1335.9,524.4 1336.7,521.8 1337.6,520.4 1338.3,527.8 1339.0,532.6 1339.7,539.3 1340.4,544.8 1341.2,552.4 1342.0,557.0 1342.7,556.1 1343.4,556.0 1344.1,553.0 1344.8,551.9 1345.4,552.4 1346.1,550.9 1346.9,555.5 1347.7,559.1 1348.6,589.6 1349.4,584.7 1350.2,579.4 1350.9,578.4 1351.5,576.9 1352.2,575.4 1352.9,577.6 1353.6,582.6 1354.3,583.5 1355.0,585.9 1355.8,585.4 1356.5,583.9 1357.2,580.6 1358.0,581.5 1358.8,580.8 1359.5,578.6 1360.2,578.0 1361.0,578.5 1361.7,575.7 1362.4,573.8 1363.1,571.1 1363.9,568.0 1364.6,566.2 1365.4,565.2 1366.1,564.3 1366.9,563.1 1367.6,562.2 1368.3,563.7 1369.1,564.4 1369.8,568.1 1370.6,584.4 1371.3,614.0 1371.9,627.5 1372.5,642.2 1373.5,631.9 1374.2,628.1 1375.0,623.0 1375.6,621.2 1376.3,619.2 1376.9,617.0 1377.7,624.5 1378.4,628.9 1379.4,634.8 1380.0,629.9 1380.5,623.0 1381.1,626.0 1381.7,627.4 1382.4,627.6 1383.1,631.9 1383.8,632.5 1384.6,634.8 1385.2,636.6 1385.8,635.3 1386.4,637.8 1387.2,642.6 1387.9,643.7 1388.7,648.1 1389.4,655.6 1390.0,660.7 1390.7,661.2 1391.3,665.9 1391.9,672.8 1392.6,678.3 1393.2,682.2 1394.0,680.7 1394.7,680.7 1395.3,676.0 1395.9,666.4 1396.5,661.5 1397.2,661.1 1398.0,657.0 1398.7,655.6 1399.4,656.3 1400.2,655.9 1400.9,658.5 1401.5,666.3 1402.1,673.3 1402.8,679.7 1403.6,688.1 1404.3,684.2 1405.0,678.9 1405.8,681.9 1406.7,682.2 1407.5,684.4 1408.3,685.6 1409.2,689.5 1410.0,697.8 1410.8,705.3 1411.7,708.9 1412.3,712.4 1413.0,712.2 1413.7,708.9 1414.4,704.4 1415.2,698.3 1416.1,693.3 1416.9,689.1 1417.8,684.4 1418.6,682.8 1419.4,677.8 1420.2,671.5 1421.1,665.6 1421.9,667.9 1422.8,667.8 1423.4,674.3 1424.1,680.0 1424.8,681.9 1425.6,684.4 1426.4,686.9 1427.2,685.6 1428.1,688.5 1428.9,692.2 1429.6,687.7 1430.3,682.2 1431.0,683.6 1431.7,688.9 1432.5,694.3 1433.3,700.0 1434.0,708.0 1434.8,720.0 1435.4,715.3 1436.1,708.9 1436.8,703.4 1437.4,702.2 1438.2,707.4 1438.9,716.7 1439.8,717.7 1440.6,722.2 1441.4,721.7 1442.2,724.4 1443.1,724.4 1443.9,724.4 1444.8,719.9 1445.6,716.7 1446.4,717.9 1447.2,721.1 1447.9,718.2 1448.6,711.1 1449.4,691.1 1450.0,690.7 1450.6,686.7 1451.4,690.1 1452.2,692.2 1453.1,688.5 1453.9,682.2 1454.8,676.4 1455.6,667.8 1456.4,666.1 1457.2,666.7 1457.8,666.9 1458.3,664.4 1459.2,662.2 1460.0,662.2 1460.5,669.7 1461.1,676.7 1461.9,673.8 1462.8,672.2 1463.6,671.2 1464.4,673.3 1465.2,672.3 1466.1,668.9 1466.9,664.6 1467.8,656.7 1468.3,650.3 1468.9,645.6 1469.8,650.0 1470.6,651.1 1471.4,644.9 1472.2,640.0 1473.1,639.0 1473.9,636.7 1474.6,638.3 1475.2,635.6 1476.1,653.3 1476.9,655.6 1477.8,655.6 1478.6,653.0 1479.4,654.4 1480.0,659.1 1480.6,664.4 1481.4,665.0 1482.2,666.7 1483.1,665.2 1483.9,665.6 1484.8,667.5 1485.6,666.7 1486.4,667.0 1487.2,667.8 1488.1,667.0 1488.9,664.4 1489.5,660.6 1490.0,655.6 1490.5,654.0 1491.1,652.2 1491.9,648.0 1492.8,647.8 1493.3,645.8 1493.9,642.2 1494.8,644.5 1495.6,643.3 1496.2,643.6 1496.7,646.7 1497.1,646.3" fill="none" stroke="#D2AD69" stroke-width="4.7" stroke-linejoin="round" stroke-linecap="round"/>
<polyline points="210.4,241.5 211.1,235.9 211.8,247.0 212.4,237.5 212.9,223.9 213.9,247.0 214.5,247.8 215.1,242.6 215.7,243.3 216.4,247.1 217.0,255.9 217.6,260.0 218.2,262.9 218.8,264.5 219.4,265.6 220.4,274.8 221.0,270.3 221.6,267.9 222.2,263.7 222.8,264.8 223.5,265.3 224.1,265.6 224.7,272.1 225.3,281.3 225.9,289.6 226.5,286.7 227.2,285.7 227.8,282.2 228.5,286.3 229.2,287.9 229.9,288.0 230.6,289.6 231.2,286.3 231.8,282.4 232.4,280.4 233.0,284.5 233.6,290.6 234.3,298.9 234.9,300.0 235.5,300.6 236.1,302.6 236.7,294.7 237.3,289.5 238.0,280.4 238.6,277.4 239.2,274.5 239.8,271.1 240.5,270.0 241.2,269.0 241.9,270.3 242.6,271.1 243.2,268.3 243.8,268.7 244.4,267.4 245.1,273.9 245.7,276.8 246.3,280.4 247.0,271.6 247.8,265.6 248.5,266.7 249.3,265.6 250.0,263.7 250.6,267.8 251.2,271.7 251.9,273.0 252.5,278.3 253.2,282.6 253.9,284.8 254.6,289.6 255.3,287.6 256.0,283.3 256.7,275.6 257.4,273.0 258.1,273.5 258.9,272.8 259.6,271.1 260.4,270.9 261.1,270.2 261.7,274.8 262.3,281.3 263.0,284.1 263.7,281.8 264.4,280.9 265.0,276.5 265.7,274.8 266.4,274.9 267.1,273.3 267.8,269.8 268.5,268.3 269.2,270.7 269.9,274.3 270.6,275.6 271.3,276.7 272.0,281.2 272.7,284.7 273.4,289.8 274.1,295.2 274.7,299.8 275.3,301.1 275.9,306.3 276.6,311.3 277.3,311.8 278.0,317.8 278.7,319.3 279.4,316.6 280.1,317.6 280.8,314.6 281.5,311.9 282.2,309.1 282.9,306.4 283.6,304.2 284.3,300.7 285.0,303.0 285.6,303.6 286.3,305.0 287.0,308.1 287.7,312.5 288.3,318.7 288.9,321.1 289.6,323.5 290.3,322.9 291.0,328.1 291.7,328.5 292.4,327.7 293.1,326.6 293.8,321.6 294.4,321.1 295.4,332.2 296.1,329.6 296.8,322.9 297.5,321.8 298.1,317.4 298.8,315.0 299.5,313.4 300.2,314.9 300.9,311.9 301.6,308.3 302.3,308.2 303.0,307.9 303.7,304.4 304.4,301.9 305.1,300.4 305.8,302.0 306.5,298.9 307.2,293.5 307.9,289.7 308.6,281.6 309.3,278.5 309.9,274.8 310.5,270.9 311.1,269.3 311.8,273.7 312.5,274.8 313.2,282.4 313.9,284.1 314.6,280.1 315.3,281.4 316.0,276.4 316.7,276.7 317.4,276.5 318.1,279.9 318.8,277.9 319.4,280.4 320.1,275.9 320.7,275.0 321.3,271.1 322.0,273.4 322.7,274.7 323.4,281.6 324.1,282.2 324.8,282.5 325.5,283.9 326.2,287.1 326.9,289.6 327.5,292.5 328.2,295.3 328.9,294.9 329.6,298.9 330.2,295.7 330.9,291.9 331.5,291.5 332.2,289.4 332.9,288.9 333.6,287.0 334.3,284.1 335.0,284.9 335.6,283.3 336.3,282.9 337.0,280.4 337.7,279.9 338.4,277.5 339.1,275.0 339.8,274.8 340.5,278.8 341.2,280.5 341.9,282.8 342.6,287.8 343.3,288.0 344.0,290.4 344.7,287.5 345.4,289.6 346.1,287.2 346.8,283.6 347.5,281.4 348.1,278.5 348.8,277.4 349.5,281.5 350.2,278.8 350.9,280.4 351.6,279.4 352.3,277.2 353.0,274.1 353.7,274.8 354.4,276.9 355.1,276.9 355.8,278.4 356.5,282.2 356.9,284.4 357.5,285.5 358.1,289.1 358.7,293.7 359.3,294.4 359.9,299.2 360.6,301.1 361.2,304.2 361.8,309.4 362.4,310.4 363.0,313.5 363.6,315.0 364.3,314.1 364.9,312.3 365.5,312.6 366.1,312.2 366.7,311.7 367.3,313.9 368.0,314.1 368.6,317.1 369.2,320.3 369.8,321.5 370.4,321.2 371.0,317.9 371.7,317.8 372.3,316.8 372.9,316.7 373.5,315.9 374.1,311.9 374.8,310.2 375.4,310.4 376.0,307.5 376.6,303.7 377.2,303.0 378.1,314.1 379.1,319.6 379.7,315.1 380.3,307.4 380.9,303.0 381.5,303.7 382.2,306.5 382.8,310.4 383.4,311.7 384.0,314.1 384.6,317.8 385.6,328.9 386.2,331.4 386.8,333.7 387.4,336.3 388.0,333.0 388.6,332.0 389.3,328.9 389.9,325.2 390.5,325.7 391.1,321.5 391.7,318.0 392.3,311.4 393.0,304.8 393.6,300.2 394.2,296.2 394.8,291.9 395.4,298.4 396.0,302.2 396.7,310.4 397.3,312.5 397.9,315.4 398.5,317.8 399.1,319.5 399.8,322.2 400.4,327.0 401.0,332.7 401.6,335.1 402.2,340.0 403.1,328.9 404.1,319.6 404.7,317.9 405.3,317.8 405.9,314.1 406.5,312.7 407.2,309.4 407.8,308.5 408.4,308.2 409.0,303.0 409.6,301.1 410.2,297.1 410.9,298.2 411.5,295.6 412.1,295.0 412.7,297.2 413.3,299.3 414.0,299.5 414.6,297.5 415.2,295.6 415.8,295.9 416.4,300.3 417.0,303.0 417.7,303.8 418.3,305.4 418.9,306.7 419.8,315.9 420.4,310.9 421.0,308.9 421.7,304.8 422.3,299.2 422.9,296.5 423.5,293.7 424.1,291.3 424.8,291.9 425.4,288.1 426.0,286.9 426.6,290.5 427.2,290.0 427.8,286.8 428.5,286.6 429.1,284.4 429.7,283.4 430.3,283.0 430.9,282.6 431.5,284.9 432.2,284.6 432.8,286.3 433.4,280.9 434.0,277.2 434.6,275.2 435.2,274.0 435.9,278.0 436.5,277.0 437.1,281.4 437.7,286.5 438.3,288.1 439.0,292.1 439.6,292.2 440.2,297.4 440.8,297.5 441.4,297.4 442.0,295.6 442.7,295.3 443.3,293.1 443.9,291.9 444.5,291.8 445.1,292.9 445.7,293.7 446.4,294.4 447.0,291.5 447.6,291.9 448.2,289.5 448.8,286.8 449.4,284.4 450.1,288.3 450.7,289.5 451.3,290.0 451.9,291.3 452.5,290.2 453.1,288.1 453.8,286.0 454.4,284.5 455.0,284.4 455.6,286.2 456.2,287.1 456.9,290.0 457.5,290.3 458.1,292.0 458.7,291.9 459.3,294.9 459.9,294.7 460.6,295.6 461.2,295.7 461.8,291.3 462.4,291.9 463.0,292.5 463.6,296.5 464.3,295.6 464.9,294.6 465.5,296.4 466.1,297.4 466.7,294.3 467.3,293.1 468.0,293.7 468.6,293.6 469.2,292.2 469.8,288.1 470.4,288.2 471.0,285.3 471.7,286.3 472.3,284.2 472.9,282.6 473.5,282.6 474.1,282.7 474.8,282.2 475.4,280.7 476.0,279.9 476.6,279.6 477.2,278.9 477.8,276.6 478.5,277.8 479.1,277.0 479.7,280.9 480.3,281.9 480.9,282.6 481.5,281.4 482.2,283.9 482.8,284.4 483.4,286.6 484.0,285.8 484.6,288.1 485.2,286.8 485.9,281.8 486.5,278.9 487.1,281.0 487.7,280.9 488.3,282.6 489.0,285.4 489.6,285.1 490.2,284.4 490.8,283.5 491.4,280.4 492.0,280.7 492.7,278.0 493.3,273.7 493.9,273.3 494.5,275.0 495.1,277.5 495.7,277.0 496.4,278.1 497.0,282.0 497.6,284.4 498.2,285.0 498.8,285.3 499.4,286.3 500.1,287.8 500.7,289.5 501.3,288.1 501.9,290.3 502.5,290.5 503.1,291.9 503.8,293.3 504.4,289.9 505.0,290.0 505.6,291.7 506.2,291.9 506.9,291.9 507.5,291.8 508.1,290.9 508.7,288.1 509.3,285.7 509.9,286.2 510.6,284.4 511.2,283.4 511.8,283.9 512.4,282.6 513.0,287.2 513.7,288.1 514.3,290.0 515.0,289.3 515.7,292.7 516.5,295.2 517.2,295.7 517.9,298.9 518.6,299.3 519.3,301.4 520.0,301.5 520.8,299.8 521.5,304.4 522.2,303.9 522.9,303.9 523.6,305.7 524.4,304.4 525.1,307.5 525.8,305.5 526.5,310.0 527.2,310.1 527.9,314.1 528.7,315.8 529.3,316.4 530.0,320.7 530.7,321.6 531.4,326.7 532.2,329.8 533.0,335.9 533.7,338.0 534.4,335.8 535.1,338.6 535.8,338.8 536.6,339.9 537.3,341.7 538.0,343.5 538.7,347.4 539.5,353.4 540.2,358.7 541.0,364.6 541.7,359.5 542.3,359.0 543.0,353.1 543.7,348.4 544.3,345.2 545.0,344.5 545.8,346.4 546.5,349.8 547.3,350.3 548.1,354.8 548.8,359.1 549.6,361.8 550.3,366.5 551.0,372.1 551.6,376.1 552.3,375.4 553.1,375.1 553.8,376.1 554.5,376.1 555.3,375.0 556.0,376.2 556.8,379.0 557.5,382.0 558.1,381.4 558.8,384.7 559.5,388.7 560.2,391.7 560.9,392.9 561.7,396.2 562.4,392.2 563.2,387.9 564.0,381.9 564.6,390.2 565.3,393.6 566.0,401.9 566.7,401.9 567.4,404.8 568.1,407.2 568.7,410.4 569.4,413.4 570.1,419.7 570.9,427.8 571.6,427.5 572.4,431.9 573.1,433.5 574.0,444.2 574.9,450.7 575.7,455.9 576.6,462.2 577.4,459.5 578.1,456.0 578.9,453.6 579.6,463.4 580.3,473.7 581.0,466.7 581.8,456.5 582.5,455.6 583.3,457.1 584.1,456.5 584.7,458.3 585.4,460.5 586.1,462.2 586.7,473.6 587.4,479.5 588.1,490.9 588.9,511.0 589.8,528.2 590.5,516.9 591.1,507.8 591.8,496.7 592.5,495.1 593.1,491.6 593.8,488.1 594.7,496.2 595.5,505.3 596.2,501.0 596.9,492.0 597.5,488.1 598.2,499.2 598.9,508.6 599.6,519.6 600.4,508.3 601.3,496.7 601.9,500.1 602.6,501.8 603.3,502.4 604.0,493.4 604.6,482.4 605.3,473.7 606.1,467.7 606.8,463.9 607.6,459.4 608.3,452.4 608.9,446.9 609.6,442.1 610.3,454.2 611.0,462.2 611.9,476.3 612.8,493.8 613.4,492.3 614.1,487.5 614.8,485.2 615.5,478.8 616.2,473.7 617.0,469.1 617.7,464.2 618.5,462.2 619.2,459.2 619.8,455.0 620.5,453.6 621.2,458.1 621.8,462.3 622.5,468.0 623.3,471.6 624.0,473.6 624.8,473.7 625.6,475.4 626.3,478.1 627.1,479.4 627.8,485.2 628.5,486.3 629.1,490.9 629.8,493.5 630.6,499.5 631.3,493.6 632.1,488.6 632.9,485.2 633.5,487.9 634.2,488.5 634.9,490.9 635.5,486.5 636.2,484.6 636.9,479.4 637.6,476.4 638.4,477.0 639.2,473.7 639.9,459.9 640.6,445.0 641.3,456.0 641.9,469.4 642.6,479.4 643.5,474.4 644.3,470.8 645.0,473.5 645.7,474.6 646.3,473.7 647.0,468.9 647.7,465.0 648.4,459.4 649.2,474.2 650.1,485.2 650.7,481.5 651.4,476.7 652.1,470.8 652.8,473.9 653.5,473.7 654.2,472.7 655.0,468.0 655.6,463.8 656.3,459.5 657.0,452.2 657.7,457.5 658.5,465.2 659.3,470.8 660.0,480.2 660.7,488.1 661.4,491.8 662.1,496.2 662.8,499.5 663.6,505.3 664.3,509.4 665.0,508.9 665.7,511.6 666.4,513.9 667.1,517.9 667.8,517.1 668.5,522.8 669.2,521.4 669.9,525.4 670.3,525.6 670.9,516.4 671.5,510.8 672.0,504.4 672.7,498.5 673.4,493.9 674.1,500.1 674.7,502.7 675.3,510.5 675.9,515.0 676.6,509.1 677.3,500.9 677.9,501.2 678.5,502.3 679.1,502.7 679.7,502.7 680.2,506.5 680.8,506.2 681.4,508.1 682.0,509.9 682.6,513.2 683.3,511.2 684.0,508.0 684.6,509.4 685.2,513.0 685.8,516.8 686.3,519.8 686.9,517.3 687.5,520.3 688.1,516.4 688.7,514.3 689.3,513.2 689.9,502.5 690.5,493.9 691.1,487.4 691.7,481.6 692.4,476.1 693.1,472.8 693.9,477.4 694.6,483.3 695.2,487.5 695.8,493.9 696.4,495.1 697.0,499.1 697.5,500.9 698.1,501.4 698.7,502.7 699.3,504.4 699.9,499.8 700.5,490.8 701.1,486.9 701.7,481.2 702.2,480.2 702.8,474.5 703.4,470.1 704.0,467.6 704.6,462.2 705.2,463.5 705.8,468.2 706.3,471.0 706.9,470.8 707.5,466.8 708.1,465.7 708.7,465.2 709.3,462.7 709.9,460.5 710.4,457.1 711.0,456.8 711.6,451.7 712.2,452.4 712.8,453.9 713.4,455.2 714.0,458.1 714.6,459.1 715.1,462.2 715.7,457.8 716.3,450.9 716.9,444.6 717.8,435.8 718.5,441.5 719.2,446.4 719.8,448.9 720.4,453.2 720.9,453.4 721.5,457.3 722.1,458.4 722.7,458.7 723.3,461.4 723.9,464.2 724.5,467.5 725.0,470.0 725.6,470.2 726.2,474.5 726.8,466.4 727.4,463.8 728.0,455.2 728.6,451.2 729.2,452.4 729.7,448.1 730.3,453.0 730.9,458.2 731.5,460.5 732.1,455.1 732.7,452.6 733.3,449.9 733.9,449.5 734.5,446.4 735.4,462.2 736.0,464.8 736.5,469.9 737.1,476.3 737.7,476.8 738.3,477.2 738.9,479.8 739.5,480.0 740.1,484.1 740.6,485.1 741.2,486.2 741.8,493.0 742.4,493.9 743.0,491.0 743.6,484.9 744.2,483.3 744.8,481.0 745.3,474.0 745.9,471.0 746.5,469.2 747.1,467.8 747.7,465.7 748.3,463.6 748.9,464.6 749.4,464.0 750.0,459.1 750.6,456.8 751.2,455.2 751.8,458.8 752.4,460.1 753.0,460.5 753.5,464.7 754.1,469.5 754.7,472.8 755.3,472.7 755.9,467.7 756.5,467.5 757.1,466.3 757.7,463.5 758.2,464.0 758.8,466.4 759.4,470.5 760.0,476.3 760.6,473.3 761.2,470.8 761.8,471.0 762.3,469.2 762.9,469.3 763.5,469.3 764.1,471.6 764.7,474.4 765.3,474.5 765.9,478.7 766.5,480.2 767.0,481.6 767.6,485.7 768.2,491.6 768.8,493.9 769.4,494.8 770.0,496.8 770.6,500.9 771.1,504.7 771.7,506.2 772.3,508.0 772.9,505.5 773.5,505.1 774.1,504.4 774.8,496.5 775.5,490.4 776.1,495.3 776.7,500.9 777.3,505.9 777.9,511.5 778.6,514.6 779.4,518.5 780.0,532.1 780.6,543.1 781.3,540.1 782.0,534.4 782.6,538.1 783.2,541.4 783.9,533.4 784.6,525.6 785.2,528.1 785.8,533.8 786.4,536.1 787.0,544.1 787.6,546.6 788.1,553.7 788.7,558.1 789.3,561.6 789.9,564.3 790.5,562.6 791.1,557.5 791.7,557.2 792.3,559.8 792.8,560.6 793.4,564.3 794.0,559.4 794.6,557.6 795.2,553.7 795.8,549.7 796.4,544.9 796.9,539.6 797.5,537.2 798.1,533.5 798.7,529.1 799.3,530.1 799.9,529.4 800.5,532.6 801.0,530.3 801.6,527.0 802.2,522.0 802.8,524.7 803.4,524.8 804.0,525.6 804.6,525.9 805.2,528.9 805.7,532.6 806.3,531.5 806.9,534.4 807.5,534.4 808.1,536.3 808.7,536.5 809.3,539.6 809.8,545.2 810.4,548.8 811.0,550.2 811.6,549.0 812.2,544.2 812.8,541.4 813.4,539.9 814.0,538.9 814.5,539.6 815.1,537.5 815.7,533.5 816.3,529.1 816.9,524.6 817.5,523.8 818.1,518.5 818.8,517.1 819.5,515.0 820.1,519.9 820.7,525.6 821.3,528.7 821.9,533.6 822.5,536.1 823.1,532.4 823.7,529.8 824.3,523.9 824.9,522.0 825.8,520.6 826.5,518.2 827.1,513.1 827.8,510.8 828.4,513.3 829.1,510.9 829.7,512.8 830.4,515.3 831.0,519.4 831.7,522.5 832.3,517.5 833.0,513.5 833.6,508.9 834.3,506.2 834.9,498.5 835.6,495.3 836.2,494.5 836.9,492.2 837.5,489.4 838.1,490.1 838.8,487.9 839.4,487.5 840.1,486.7 840.7,485.5 841.4,485.6 842.0,487.4 842.7,488.4 843.3,491.4 844.1,492.9 844.9,497.2 845.6,493.2 846.2,489.4 846.9,482.3 847.6,477.8 848.4,475.7 849.2,473.9 849.8,475.5 850.5,475.6 851.1,477.8 851.9,470.5 852.7,466.1 853.3,459.8 854.0,452.5 854.7,450.2 855.4,444.7 856.2,441.6 856.9,440.8 857.6,442.0 858.2,442.8 858.9,442.8 859.5,445.1 860.2,444.9 860.8,444.7 861.5,444.5 862.1,444.7 862.8,446.7 863.4,445.6 864.1,440.6 864.7,438.9 865.4,434.8 866.0,436.6 866.7,433.1 867.3,429.8 868.0,428.3 868.6,427.2 869.2,423.5 869.8,421.4 870.5,424.2 871.1,429.2 871.8,433.1 872.5,435.0 873.3,432.4 874.1,431.1 874.7,434.7 875.4,438.9 876.1,442.4 876.8,446.7 877.6,450.1 878.3,450.6 879.0,446.5 879.6,447.0 880.3,444.7 880.9,442.5 881.6,441.9 882.2,442.8 882.9,445.8 883.5,447.4 884.2,450.6 884.9,454.5 885.7,462.2 886.4,463.6 887.1,464.2 887.7,463.4 888.4,459.6 889.0,456.4 889.7,453.1 890.3,451.2 891.0,446.7 891.6,445.9 892.3,439.9 892.9,438.9 893.6,438.7 894.2,442.2 894.9,440.8 895.5,444.7 896.2,443.4 896.8,446.7 897.5,450.2 898.1,453.5 898.8,454.4 899.4,452.3 900.0,450.1 900.7,446.7 901.3,444.8 902.0,441.6 902.6,440.8 903.3,437.0 903.9,433.7 904.6,433.1 905.2,432.5 905.9,428.9 906.5,429.2 907.2,427.1 907.8,423.5 908.5,421.4 909.2,416.2 909.8,411.7 910.6,409.8 911.4,403.9 912.2,397.6 912.9,392.2 913.6,390.2 914.3,388.3 915.3,396.1 916.2,403.9 916.9,396.6 917.6,390.3 918.4,388.1 919.2,388.3 919.9,393.0 920.7,400.0 921.5,406.0 922.3,411.7 923.2,409.2 924.0,403.9 924.7,401.4 925.3,404.6 926.0,401.9 926.6,404.7 927.3,403.9 927.9,407.8 928.7,405.8 929.5,401.9 930.2,397.6 930.8,394.2 931.6,400.1 932.4,405.8 933.2,405.0 933.9,407.8 934.7,404.9 935.5,401.9 936.3,400.1 937.1,398.1 937.8,402.2 938.6,403.9 939.4,411.1 940.2,417.5 940.8,425.2 941.5,431.1 942.3,435.1 943.1,436.9 943.8,434.7 944.4,435.0 945.2,436.8 946.0,442.8 946.7,446.6 947.4,450.6 948.1,452.8 948.9,458.3 949.6,459.7 950.3,464.2 951.1,458.5 951.8,454.4 952.6,451.7 953.4,448.6 954.2,452.0 954.9,454.4 955.8,459.0 956.7,462.2 957.6,466.1 958.4,466.1 959.2,462.4 960.0,462.2 960.6,459.9 961.3,455.2 961.9,454.4 962.6,456.5 963.2,456.8 963.9,458.3 964.5,458.7 965.2,461.4 965.8,464.2 966.5,462.9 967.1,460.2 967.8,458.3 968.4,459.6 969.1,456.4 969.7,456.4 970.5,460.5 971.3,466.1 972.1,473.8 972.8,477.8 973.5,481.2 974.2,483.6 974.9,475.1 975.6,470.0 976.2,469.3 976.9,465.5 977.5,464.2 978.1,465.6 978.8,463.8 979.4,464.0 980.0,462.2 980.6,465.6 981.2,465.6 981.9,464.9 982.6,464.2 983.3,462.1 984.0,455.8 984.7,451.7 985.4,451.7 986.1,453.7 986.8,457.2 987.5,462.9 988.2,465.6 988.9,466.9 989.6,472.5 990.3,470.5 991.0,466.9 991.7,468.4 992.4,465.6 993.1,467.9 993.8,468.3 994.4,473.4 995.1,475.3 995.8,476.9 996.5,482.2 997.2,485.9 997.9,489.2 998.6,484.8 999.3,479.4 1000.0,484.0 1000.7,489.2 1001.4,490.9 1002.1,493.3 1002.8,489.1 1003.5,482.2 1004.2,483.5 1004.9,487.8 1005.6,487.2 1006.2,490.6 1006.9,488.9 1007.6,486.4 1008.3,487.1 1009.0,483.6 1009.7,487.1 1010.4,487.8 1011.1,491.3 1011.8,493.3 1012.5,488.3 1013.2,485.0 1013.9,484.7 1014.6,480.8 1015.3,481.6 1016.0,486.4 1016.7,480.4 1017.4,476.7 1018.1,473.8 1018.8,468.3 1019.4,471.5 1020.1,471.1 1020.8,472.1 1021.5,473.9 1022.2,477.8 1022.9,478.1 1023.6,478.4 1024.3,482.2 1025.0,477.1 1025.7,471.1 1026.4,470.6 1027.1,473.9 1027.8,475.5 1028.5,479.4 1029.2,482.9 1029.9,489.2 1030.6,484.9 1031.2,485.0 1031.9,483.2 1032.6,482.2 1033.3,479.4 1034.0,476.7 1034.7,478.5 1035.4,482.2 1036.1,489.8 1036.8,496.1 1037.5,488.6 1038.2,485.0 1038.9,483.7 1039.6,482.2 1040.3,478.2 1041.0,473.9 1041.7,476.2 1042.4,479.4 1043.1,485.4 1043.8,487.8 1044.4,487.5 1045.1,490.6 1045.8,488.8 1046.5,487.8 1047.2,489.7 1047.9,491.9 1048.6,490.7 1049.3,490.6 1050.0,498.2 1050.7,501.7 1051.4,500.6 1052.1,498.9 1052.8,497.6 1053.5,496.1 1054.2,495.8 1054.9,496.1 1055.6,496.5 1056.2,497.5 1056.9,497.4 1057.6,493.3 1058.3,498.1 1059.0,500.3 1059.7,498.1 1060.4,494.7 1061.1,496.7 1061.8,501.7 1062.5,499.3 1063.2,496.1 1063.9,491.0 1064.6,489.2 1065.3,485.7 1066.0,483.6 1066.7,482.2 1067.4,485.0 1068.1,488.0 1068.8,489.2 1069.4,485.7 1070.1,478.1 1070.8,480.7 1071.5,482.2 1072.2,486.0 1072.9,489.2 1073.6,487.4 1074.3,487.8 1075.0,488.9 1075.7,490.6 1076.4,489.0 1077.1,487.8 1077.8,489.5 1078.5,491.9 1079.2,491.6 1079.9,493.3 1080.6,498.3 1081.2,505.8 1081.9,503.5 1082.6,498.9 1083.3,498.8 1084.0,494.7 1084.7,496.8 1085.4,496.1 1086.1,499.4 1086.8,501.7 1087.5,497.5 1088.2,497.5 1088.9,498.7 1089.6,501.7 1090.3,507.3 1091.0,510.0 1091.7,510.0 1092.4,505.8 1093.1,505.3 1093.8,504.4 1094.4,506.1 1095.1,507.2 1095.8,507.3 1096.5,505.8 1097.2,505.4 1097.9,507.2 1098.6,510.2 1099.3,511.4 1100.0,513.6 1100.7,516.9 1101.4,516.4 1102.1,512.8 1102.8,511.2 1103.5,510.0 1104.2,505.2 1104.9,498.9 1105.6,496.4 1106.2,493.3 1106.9,493.5 1107.6,493.3 1108.3,492.5 1109.0,491.9 1109.7,496.0 1110.4,496.1 1111.1,500.7 1111.8,503.1 1112.5,502.0 1113.2,501.7 1113.9,502.4 1114.6,503.1 1115.3,502.7 1116.0,498.9 1116.7,500.7 1117.4,500.3 1118.1,503.0 1118.8,504.4 1119.4,502.3 1120.1,496.1 1120.8,492.3 1121.5,491.9 1122.2,491.7 1122.9,490.6 1123.6,489.7 1124.3,487.8 1125.0,489.7 1125.7,491.9 1126.4,491.9 1127.1,487.8 1127.8,487.8 1128.5,483.6 1129.2,482.4 1129.9,482.2 1130.6,485.5 1131.2,487.8 1131.9,491.7 1132.6,493.3 1133.4,494.7 1134.2,493.7 1135.0,494.7 1135.7,497.4 1136.4,496.7 1137.1,497.1 1137.8,500.0 1138.5,502.9 1139.3,505.1 1140.0,506.7 1140.7,508.5 1141.5,511.1 1142.2,513.3 1143.0,519.9 1143.8,522.2 1144.4,519.9 1145.0,514.4 1145.6,511.1 1146.1,507.7 1146.7,501.1 1147.3,495.6 1147.9,484.8 1148.5,475.5 1149.1,464.4 1149.8,475.7 1150.4,484.4 1151.3,506.7 1152.2,524.4 1153.1,542.2 1154.0,560.0 1154.9,546.7 1155.8,513.3 1156.7,506.7 1157.6,524.4 1158.2,521.7 1158.9,515.6 1159.6,523.0 1160.2,528.9 1160.9,521.8 1161.6,513.3 1162.1,517.3 1162.7,520.2 1163.3,526.7 1163.9,522.0 1164.5,516.1 1165.1,513.3 1165.9,520.8 1166.7,524.4 1167.4,522.7 1168.2,522.2 1168.8,524.9 1169.4,527.7 1170.0,528.9 1170.6,524.5 1171.2,524.4 1171.8,520.0 1172.4,514.0 1173.0,507.8 1173.6,504.4 1174.2,499.0 1174.9,492.2 1175.6,486.7 1176.3,484.1 1177.1,477.8 1177.8,485.3 1178.4,493.3 1179.2,486.5 1180.0,483.3 1180.8,482.4 1181.7,485.8 1182.5,484.6 1183.3,487.5 1183.9,486.4 1184.5,486.3 1185.2,482.4 1185.8,483.3 1186.4,480.9 1187.0,479.9 1187.7,480.1 1188.3,476.7 1188.9,476.3 1189.5,473.4 1190.2,469.8 1190.8,466.7 1191.4,460.8 1192.1,454.2 1192.9,441.7 1193.8,439.2 1194.6,439.2 1195.3,442.2 1196.0,442.7 1196.7,446.7 1197.5,440.0 1198.3,435.0 1199.2,435.2 1200.0,432.5 1200.8,435.3 1201.7,437.5 1202.4,436.0 1203.1,432.3 1203.8,430.0 1204.4,433.6 1205.0,439.2 1205.8,441.3 1206.7,443.3 1207.4,442.5 1208.1,440.0 1208.8,440.0 1209.4,444.0 1210.0,445.0 1210.6,454.6 1211.2,460.0 1212.1,455.2 1212.9,453.3 1213.8,447.2 1214.6,443.3 1215.4,446.4 1216.2,446.7 1217.1,442.7 1217.9,436.7 1218.8,437.5 1219.6,440.8 1220.4,444.9 1221.2,448.3 1221.9,449.6 1222.5,453.3 1223.1,445.7 1223.8,435.0 1224.4,433.7 1225.0,431.7 1225.8,435.0 1226.7,438.3 1227.5,434.3 1228.3,433.3 1229.2,428.7 1230.0,425.0 1230.6,419.9 1231.2,415.0 1232.1,413.5 1232.9,413.3 1233.8,411.5 1234.6,412.5 1235.2,407.4 1235.8,405.0 1236.7,404.6 1237.5,402.5 1238.3,404.0 1239.2,401.7 1239.8,402.5 1240.5,400.7 1241.1,399.4 1241.8,400.0 1242.5,398.1 1243.1,398.8 1243.8,401.4 1244.4,405.0 1245.2,406.8 1245.9,404.7 1246.7,407.8 1247.4,406.6 1248.1,410.4 1248.8,408.5 1249.4,410.6 1250.2,412.9 1250.9,417.5 1251.7,421.7 1252.3,419.4 1253.0,412.1 1253.6,410.6 1254.3,412.2 1254.9,409.7 1255.6,410.6 1256.3,409.0 1257.0,406.7 1257.8,405.0 1258.5,407.0 1259.3,414.4 1260.0,416.1 1260.6,419.3 1261.3,426.7 1261.9,430.0 1262.6,429.8 1263.2,426.1 1263.9,424.4 1264.6,429.2 1265.4,428.1 1266.1,432.8 1266.8,434.9 1267.4,440.1 1268.1,443.9 1268.8,438.3 1269.5,437.8 1270.3,432.8 1271.0,430.1 1271.7,428.5 1272.4,423.5 1273.1,421.7 1273.8,418.2 1274.4,420.6 1275.1,416.2 1275.8,416.1 1276.5,416.4 1277.2,415.9 1277.9,418.6 1278.6,418.9 1279.3,416.0 1280.0,412.0 1280.7,408.5 1281.4,407.8 1282.1,405.7 1282.8,406.2 1283.5,402.1 1284.2,402.2 1284.9,401.7 1285.6,404.1 1286.2,404.9 1286.9,405.0 1287.7,407.0 1288.5,407.0 1289.2,408.6 1290.0,407.8 1290.6,406.5 1291.1,408.3 1292.1,418.5 1293.1,430.7 1293.8,431.9 1294.5,427.3 1295.2,428.7 1295.9,428.4 1296.5,429.7 1297.2,432.8 1297.9,434.7 1298.6,434.2 1299.3,434.8 1299.9,437.3 1300.6,438.3 1301.3,436.9 1302.0,439.5 1302.7,438.7 1303.3,438.9 1304.0,434.8 1304.7,434.1 1305.4,428.7 1306.0,431.8 1306.7,431.4 1307.4,434.8 1308.1,435.7 1308.8,434.1 1309.4,436.9 1310.1,437.4 1310.8,442.9 1311.5,445.0 1312.2,443.9 1312.8,442.5 1313.5,438.9 1314.2,437.3 1314.9,431.9 1315.6,430.7 1316.2,432.5 1316.9,434.2 1317.6,432.8 1318.3,434.9 1319.0,435.4 1319.6,436.9 1320.3,438.0 1321.0,439.0 1321.7,443.0 1322.3,445.6 1323.0,449.1 1323.7,449.1 1324.4,449.4 1325.1,454.6 1325.7,455.2 1326.4,457.6 1327.1,455.9 1327.8,457.2 1328.5,456.7 1329.1,451.6 1329.8,451.1 1330.5,449.6 1331.2,450.0 1331.9,449.1 1332.9,445.0 1333.9,451.1 1334.6,454.1 1335.2,454.0 1335.9,455.2 1336.7,452.4 1337.6,453.1 1338.3,462.2 1339.0,467.4 1339.7,472.8 1340.4,477.6 1341.2,482.9 1342.0,485.7 1342.7,481.8 1343.4,479.6 1344.1,477.6 1344.8,477.1 1345.4,478.9 1346.1,481.7 1346.8,480.7 1347.5,479.9 1348.1,479.6 1348.8,480.3 1349.5,481.1 1350.2,479.6 1350.9,478.2 1351.5,480.1 1352.2,477.6 1352.9,478.3 1353.6,476.9 1354.3,477.6 1354.9,472.1 1355.6,471.5 1356.3,465.4 1357.1,469.1 1357.9,471.5 1358.7,471.5 1359.6,475.6 1360.2,481.1 1360.8,484.5 1361.4,489.8 1362.1,483.4 1362.7,478.8 1363.4,471.5 1364.1,471.6 1364.8,473.2 1365.5,475.6 1366.1,475.7 1366.8,477.3 1367.5,475.6 1368.2,475.8 1368.9,481.1 1369.5,481.7 1370.2,487.4 1370.9,489.8 1371.6,495.9 1372.3,505.8 1373.0,514.3 1373.8,510.7 1374.6,506.1 1375.3,505.7 1376.0,503.6 1376.7,502.0 1377.3,504.6 1378.0,508.8 1378.7,512.2 1379.4,507.0 1380.1,503.9 1380.7,500.0 1381.4,505.0 1382.1,509.1 1382.8,516.3 1383.5,520.5 1384.3,526.5 1385.0,532.6 1385.6,530.9 1386.1,530.2 1386.9,533.5 1387.7,536.3 1388.5,544.5 1389.2,550.6 1390.2,568.9 1391.0,562.7 1391.8,558.7 1392.5,565.1 1393.2,570.9 1394.3,583.1 1395.1,571.2 1395.9,560.7 1396.6,552.4 1397.3,546.5 1398.0,544.2 1398.7,547.1 1399.4,544.4 1400.0,549.1 1400.7,551.3 1401.4,552.6 1402.4,564.8 1403.2,575.6 1404.0,589.3 1405.0,568.1 1405.8,569.6 1406.5,574.1 1407.2,574.6 1408.0,578.5 1408.7,588.0 1409.4,599.3 1410.2,606.4 1410.9,614.1 1411.7,618.6 1412.4,627.4 1413.2,618.9 1413.9,611.1 1414.7,609.7 1415.4,606.7 1416.2,609.6 1416.9,609.6 1417.6,599.4 1418.3,591.9 1419.0,588.2 1419.8,588.9 1420.4,589.2 1421.0,586.4 1421.6,585.9 1422.2,594.0 1422.8,603.7 1423.5,612.5 1424.3,624.4 1425.0,627.8 1425.7,633.3 1426.5,630.1 1427.2,628.9 1428.0,636.7 1428.7,646.7 1429.3,638.6 1429.9,632.9 1430.5,625.9 1431.1,632.5 1431.7,636.3 1432.4,639.2 1433.1,643.7 1433.8,649.3 1434.6,655.6 1435.2,674.8 1435.7,694.1 1436.3,685.2 1436.9,673.3 1437.6,661.2 1438.3,646.7 1439.0,662.1 1439.8,673.3 1440.3,677.8 1440.9,685.2 1441.6,680.6 1442.3,673.3 1443.0,671.7 1443.8,671.9 1444.4,657.4 1445.0,642.2 1445.8,643.1 1446.5,643.7 1447.1,662.5 1447.7,680.7 1448.7,661.5 1449.4,602.2 1450.2,600.7 1450.9,600.7 1451.7,607.0 1452.4,617.0 1453.2,606.0 1453.9,599.3 1454.7,599.7 1455.4,596.3 1456.1,581.5 1456.8,582.5 1457.6,580.0 1458.6,584.4 1459.3,578.3 1460.1,572.6 1460.7,572.3 1461.4,577.0 1462.0,577.0 1462.8,572.6 1463.5,568.1 1464.5,566.9 1465.2,573.9 1466.0,581.1 1466.8,571.5 1467.6,560.7 1468.3,555.8 1469.0,552.7 1469.6,550.6 1470.4,550.9 1471.3,548.5 1472.0,547.5 1472.7,544.4 1473.4,543.5 1474.1,538.3 1474.9,542.1 1475.7,546.5 1476.6,555.7 1477.4,560.7 1478.0,563.8 1478.7,563.5 1479.4,564.8 1480.2,570.6 1481.0,573.0 1481.6,574.2 1482.3,576.5 1482.9,581.1 1483.5,585.9 1484.2,586.3 1484.9,591.3 1485.6,584.2 1486.3,577.0 1487.1,573.0 1488.0,566.9 1488.6,564.9 1489.3,560.2 1490.0,558.7 1490.7,557.9 1491.4,552.6 1492.0,552.6 1492.7,550.8 1493.4,550.3 1494.1,546.5 1494.9,544.6 1495.7,542.4 1496.4,544.6 1497.1,548.5" fill="none" stroke="#B60000" stroke-width="5.4" stroke-linejoin="round" stroke-linecap="round"/>
<line x1="309" y1="896" x2="381" y2="896" stroke="#D2AD69" stroke-width="4" stroke-linecap="round"/>
<text y="904.50" font-size="29.0"><tspan x="397.54" textLength="125.72" lengthAdjust="spacingAndGlyphs">Obligacje</tspan> <tspan x="530.44" textLength="99.00" lengthAdjust="spacingAndGlyphs">rynków</tspan> <tspan x="638.00" textLength="195.91" lengthAdjust="spacingAndGlyphs">wschodzących</tspan></text>
<line x1="888" y1="896" x2="960" y2="896" stroke="#B60000" stroke-width="4" stroke-linecap="round"/>
<text y="904.50" font-size="29.0"><tspan x="976.74" textLength="88.84" lengthAdjust="spacingAndGlyphs">Indeks</tspan> <tspan x="1071.71" textLength="83.15" lengthAdjust="spacingAndGlyphs">dolara</tspan> <tspan x="1163.51" textLength="42.80" lengthAdjust="spacingAndGlyphs">(pr.</tspan> <tspan x="1210.84" textLength="35.96" lengthAdjust="spacingAndGlyphs">oś,</tspan> <tspan x="1252.57" textLength="159.04" lengthAdjust="spacingAndGlyphs">odwrócony)</tspan></text>
<text y="1025.75" font-size="27.5"><tspan x="152.54" textLength="98.43" lengthAdjust="spacingAndGlyphs">Źródło:</tspan> <tspan x="252.26" textLength="71.36" lengthAdjust="spacingAndGlyphs">mTFI,</tspan> <tspan x="328.93" textLength="107.23" lengthAdjust="spacingAndGlyphs">Refinitiv</tspan> <tspan x="443.22" textLength="156.66" lengthAdjust="spacingAndGlyphs">Datastream</tspan></text>
</svg></body></html>
